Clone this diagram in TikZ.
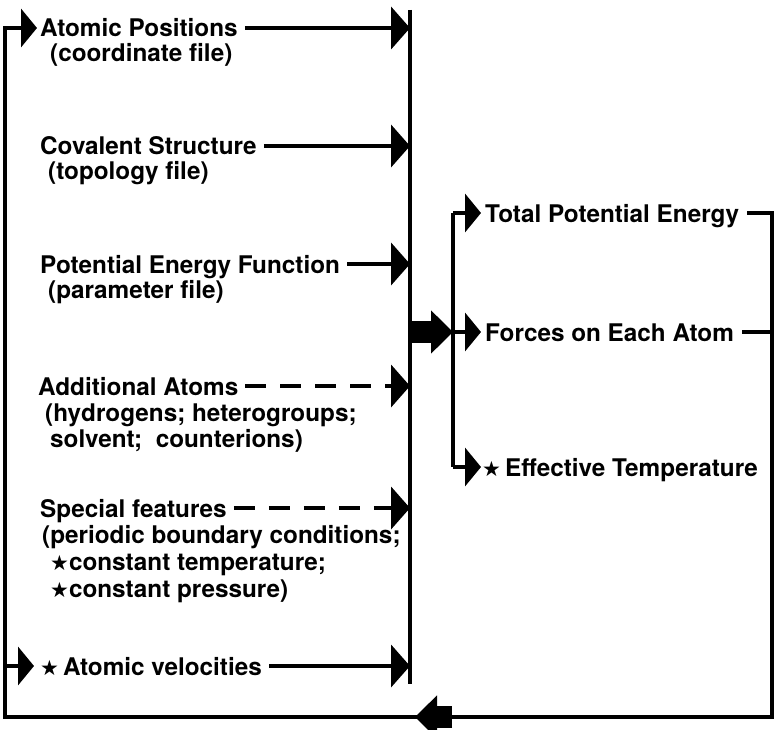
\documentclass[tikz,border=0pt]{standalone}
\usepackage{fontspec}
\setmainfont{TeX Gyre Heros}
\newfontfamily\starfont{DejaVu Sans}
\usetikzlibrary{arrows.meta,positioning}
\newcommand{\strmark}{{\starfont\fontsize{21}{21}\selectfont ★}}

\begin{document}
\begin{tikzpicture}[
  x=1pt,y=-1pt,
  lbl/.style={anchor=west,inner sep=0pt,text height=18pt,text depth=0pt,font=\fontsize{24.3}{26}\selectfont\bfseries},
  arr/.style={-{Triangle[length=19pt,width=42pt]},line width=4.5pt},
  inarr/.style={-{Triangle[length=16pt,width=38pt]},line width=4.5pt},
  darr/.style={arr,dash pattern=on 21pt off 14pt},
  wire/.style={line width=3.6pt},
  fat/.style={-{Triangle[length=22pt,width=42pt]},line width=22pt}
]
\useasboundingbox (0,0) rectangle (781,730);
\coordinate (lft) at (5,0);
\coordinate (ctr) at (410,0);
\coordinate (inr) at (453,0);
\coordinate (rgt) at (772,0);
\coordinate (btm) at (0,717);

% input files
\node[lbl] (pos) at (40,28) {Atomic Positions};
\node[lbl] (posf) at (50,53) {(coordinate file)};
\node[lbl] (cov) at (40,146) {Covalent Structure};
\node[lbl] (covf) at (48,171) {(topology file)};
\node[lbl] (pot) at (40,264) {Potential Energy Function};
\node[lbl] (potf) at (48,289) {(parameter file)};
\node[lbl] (add) at (38,386) {Additional Atoms};
\node[lbl] (add1) at (45,412) {(hydrogens; heterogroups;};
\node[lbl] (add2) at (50,438) {solvent;\ \ counterions)};
\node[lbl] (spc) at (40,508) {Special features};
\node[lbl] (spc1) at (42,534) {(periodic boundary conditions;};
\node[lbl] (spc2) at (50,561) {\strmark constant temperature;};
\node[lbl] (spc3) at (50,588) {\strmark constant pressure)};
\node[lbl] (vel) at (40,666) {\strmark\,Atomic velocities};

% results
\node[lbl] (tpe) at (485,213) {Total Potential Energy};
\node[lbl] (frc) at (485,332) {Forces on Each Atom};
\node[lbl] (eft) at (482,467) {\strmark\,Effective Temperature};

% inputs into the program
\draw[wire] ([yshift=18pt]ctr |- pos) -- ([yshift=-18pt]ctr |- vel);
\draw[arr] ([xshift=7pt]pos.east) -- (ctr |- pos);
\draw[arr] ([xshift=7pt]cov.east) -- (ctr |- cov);
\draw[arr] ([xshift=7pt]pot.east) -- (ctr |- pot);
\draw[darr] ([xshift=7pt]add.east) -- (ctr |- add);
\draw[darr] ([xshift=7pt]spc.east) -- (ctr |- spc);
\draw[arr] ([xshift=7pt]vel.east) -- (ctr |- vel);

% program output
\draw[fat] (ctr |- frc) -- (inr |- frc);
\draw[wire] (inr |- tpe) -- (inr |- eft);
\draw[inarr] (inr |- tpe) -- ([xshift=-4pt]tpe.west);
\draw[inarr] (inr |- frc) -- ([xshift=-4pt]frc.west);
\draw[inarr] (inr |- eft) -- ([xshift=-1pt]eft.west);

% feedback loop
\draw[wire,line join=miter] ([xshift=8pt]tpe.east) -- (tpe -| rgt) -- (rgt |- btm) -- (lft |- btm) -- (lft |- pos);
\draw[wire] ([xshift=8pt]frc.east) -- (frc -| rgt);
\draw[inarr] ([xshift=-1.8pt]lft |- pos) -- ([xshift=-3pt]pos.west);
\draw[inarr] (lft |- vel) -- ([xshift=-6pt]vel.west);
\draw[fat] ([xshift=452pt]btm) -- ([xshift=415pt]btm);
\end{tikzpicture}
\end{document}
